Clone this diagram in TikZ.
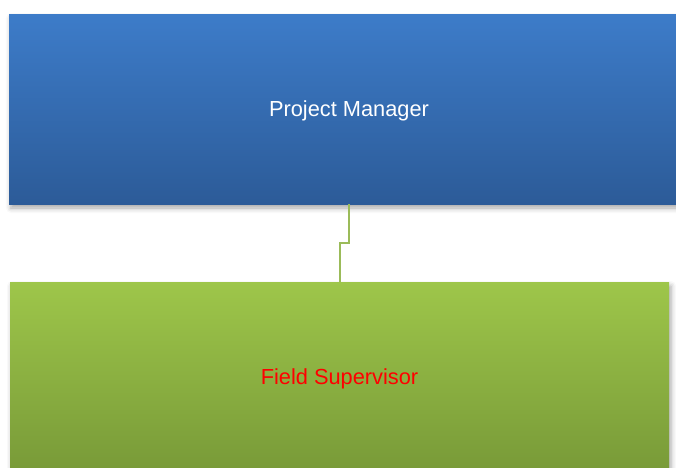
\documentclass[tikz,border=0pt]{standalone}
\usepackage{fontspec}
\setmainfont{Liberation Sans}
\usetikzlibrary{shadows.blur}
\definecolor{pmtop}{HTML}{3D7CC9}
\definecolor{pmbot}{HTML}{2C5B98}
\definecolor{fstop}{HTML}{9EC64A}
\definecolor{fsbot}{HTML}{789A38}
\definecolor{conncol}{HTML}{9BBB59}
\definecolor{fsred}{HTML}{FF0000}
\tikzset{
  orgbox/.style={rectangle, inner sep=0pt, font=\fontsize{21.8}{24}\selectfont,
    text height=20pt, text depth=4.6pt,
    blur shadow={shadow xshift=2pt, shadow yshift=-4pt, shadow blur radius=5pt, shadow opacity=35}},
  conn/.style={draw=conncol, line width=2pt}
}
\begin{document}
\begin{tikzpicture}[x=1pt,y=-1pt]
\useasboundingbox (0,0) rectangle (676,467);
\node[orgbox, top color=pmtop, bottom color=pmbot, text=white,
  minimum width=680pt, minimum height=190pt] (pm) at (349,109) {Project Manager};
\node[orgbox, top color=fstop, bottom color=fsbot, text=fsred,
  minimum width=659pt, minimum height=190pt] (fs) at (339.5,377) {Field Supervisor};
\coordinate (bend) at (0,243);
\draw[conn] (pm.south) -- (pm.south |- bend) -| (fs.north);
\end{tikzpicture}
\end{document}
